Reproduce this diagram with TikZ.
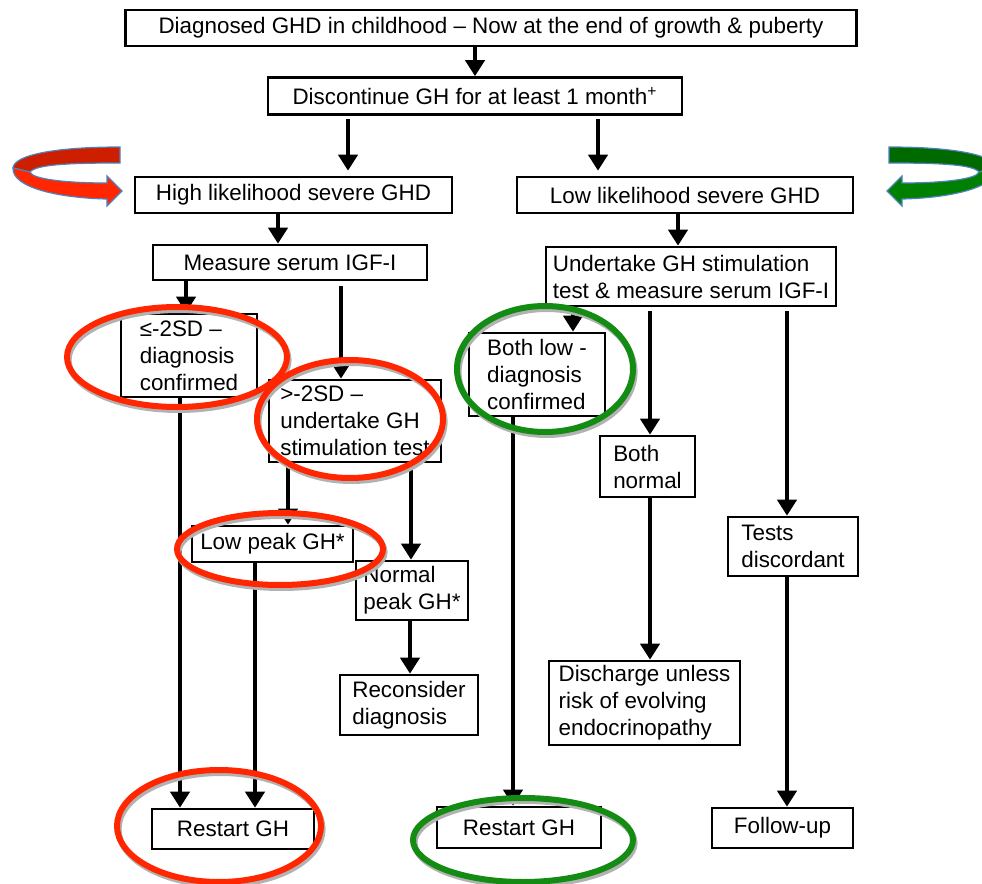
\documentclass[tikz,border=0pt]{standalone}
\usepackage{fontspec}
\setmainfont{Liberation Sans}
\usetikzlibrary{arrows.meta}
\tikzstyle{every picture}=[x=0.5pt,y=-0.5pt]
\tikzstyle{box}=[draw,line width=1.3pt,inner sep=0pt,align=left,font=\fontsize{11.2}{13.5}\selectfont]
\tikzstyle{arr}=[line width=2.2pt,-{Triangle[width=9.5pt,length=8pt]}]
\tikzstyle{ring}=[line width=3pt]
\tikzstyle{ringshadow}=[line width=3pt,black!30,xshift=0.8pt,yshift=-1.5pt]
\definecolor{ringred}{RGB}{255,38,0}
\definecolor{ringgreen}{RGB}{20,140,20}
\definecolor{darkred}{RGB}{205,30,0}
\definecolor{darkgreen}{RGB}{0,105,0}
\definecolor{midgreen}{RGB}{0,128,0}
\definecolor{edgeblue}{RGB}{79,129,189}

\begin{document}
\begin{tikzpicture}
    \clip (0,0) rectangle (982,884);
    % Start
    \node[box,minimum width=365.5pt,minimum height=18pt] (diag) at (491,28) {Diagnosed GHD in childhood -- Now at the end of growth \& puberty};
    \node[box,minimum width=207pt,minimum height=18.5pt] (stop) at (475,96) {Discontinue GH for at least 1 month\textsuperscript{+}};
    \draw[arr] (diag.south -| stop.north) -- (stop.north);
    % Two branches
    \node[box,minimum width=158.5pt,minimum height=18pt] (high) at (293.5,195) {High likelihood severe GHD};
    \node[box,minimum width=168pt,minimum height=18pt] (low) at (685,195) {Low likelihood severe GHD};
    \draw[arr,shorten <=1.5pt,shorten >=2.5pt] (stop.south -| 348,0) -- (high.north -| 348,0);
    \draw[arr,shorten <=1.5pt,shorten >=2.5pt] (stop.south -| 598,0) -- (low.north -| 598,0);
    % High likelihood
    \node[box,minimum width=137pt,minimum height=17.5pt] (meas) at (290,262.5) {Measure serum IGF-I};
    \draw[arr] (high.south -| 278,0) -- (meas.north -| 278,0);
    \node[box,minimum width=68pt,minimum height=41.5pt] (le) at (189,355.5) {≤-2SD --\\diagnosis\\confirmed};
    \node[box,minimum width=86pt,minimum height=41pt] (gt) at (355,421) {>-2SD --\\undertake GH\\stimulation test};
    \draw[arr] (meas.south -| 186,0) -- (le.north -| 186,0);
    \draw[arr,shorten <=2.5pt] (meas.south -| 341,0) -- (gt.north -| 341,0);
    \node[box,minimum width=80.5pt,minimum height=18pt] (lp) at (272.5,544) {Low peak GH*};
    \node[box,minimum width=56pt,minimum height=29.5pt] (np) at (412,590.5) {Normal\\peak GH*};
    \draw[arr] (gt.south -| 288,0) -- (lp.north -| 288,0);
    \draw[arr] (gt.south -| 411,0) -- (np.north -| 411,0);
    \node[box,minimum width=69pt,minimum height=30pt] (rd) at (409,705) {Reconsider\\diagnosis};
    \draw[arr] (np.south -| 410,0) -- (rd.north -| 410,0);
    \node[box,minimum width=81pt,minimum height=20pt] (rs1) at (233,829) {Restart GH};
    \draw[arr] (le.south -| 180,0) -- (rs1.north -| 180,0);
    \draw[arr] (lp.south -| 255,0) -- (rs1.north -| 255,0);
    % Low likelihood
    \node[box,minimum width=145pt,minimum height=29.5pt] (und) at (691,276.5) {Undertake GH stimulation\\test \& measure serum IGF-I};
    \draw[arr] (low.south -| 678,0) -- (und.north -| 678,0);
    \node[box,minimum width=68pt,minimum height=41.5pt] (bl) at (537,374.5) {Both low -\\diagnosis\\confirmed};
    \node[box,minimum width=47.5pt,minimum height=30.5pt] (bn) at (647.5,466.5) {Both\\normal};
    \node[box,minimum width=65pt,minimum height=29.5pt] (td) at (793,546.5) {Tests\\discordant};
    \draw[arr] (und.south -| 573,0) -- (bl.north -| 573,0);
    \draw[arr,shorten <=2pt] (und.south -| 650,0) -- (bn.north -| 650,0);
    \draw[arr,shorten <=2pt] (und.south -| 787,0) -- (td.north -| 787,0);
    \node[box,minimum width=95.5pt,minimum height=42pt] (dis) at (644.5,703) {Discharge unless\\risk of evolving\\endocrinopathy};
    \draw[arr] (bn.south -| 650,0) -- (dis.north -| 650,0);
    \node[box,minimum width=82pt,minimum height=20.5pt] (rs2) at (519,827.5) {Restart GH};
    \node[box,minimum width=70.5pt,minimum height=20pt] (fu) at (782.5,828) {Follow-up};
    \draw[arr] (bl.south -| 513,0) -- (rs2.north -| 513,0);
    \draw[arr] (td.south -| 787,0) -- (fu.north -| 787,0);
    % Red rings
    \foreach \cx/\cy/\rx/\ry in {177/357/110/50, 350/419/93/59, 280/549/103/36, 219/826/102/56}{
        \draw[ringshadow] (\cx,\cy) ellipse [x radius=\rx, y radius=\ry];
        \draw[ring,ringred] (\cx,\cy) ellipse [x radius=\rx, y radius=\ry];
    }
    % Green rings
    \foreach \cx/\cy/\rx/\ry in {545/369/88/63, 523/840/110/42}{
        \draw[ringshadow] (\cx,\cy) ellipse [x radius=\rx, y radius=\ry];
        \draw[ring,ringgreen] (\cx,\cy) ellipse [x radius=\rx, y radius=\ry];
    }
    % Red turn arrow
    \draw[edgeblue,line width=0.6pt,fill=darkred] (120,147) .. controls (55,147) and (14,155) .. (13,168)
        -- (30,172) .. controls (36,164) and (75,163) .. (120,163) -- cycle;
    \draw[edgeblue,line width=0.6pt,fill=ringred] (13,168) .. controls (12,188) and (60,198) .. (107,199)
        -- (107,206) -- (122,191) -- (107,176) -- (107,183)
        .. controls (65,183) and (32,179) .. (30,172) -- cycle;
    % Green turn arrow
    \draw[edgeblue,line width=0.6pt,fill=darkgreen] (889,147) .. controls (954,147) and (995,155) .. (996,168)
        -- (979,172) .. controls (973,164) and (934,163) .. (889,163) -- cycle;
    \draw[edgeblue,line width=0.6pt,fill=midgreen] (996,168) .. controls (997,188) and (949,198) .. (902,199)
        -- (902,206) -- (887,191) -- (902,176) -- (902,183)
        .. controls (944,183) and (977,179) .. (979,172) -- cycle;
\end{tikzpicture}
\end{document}
